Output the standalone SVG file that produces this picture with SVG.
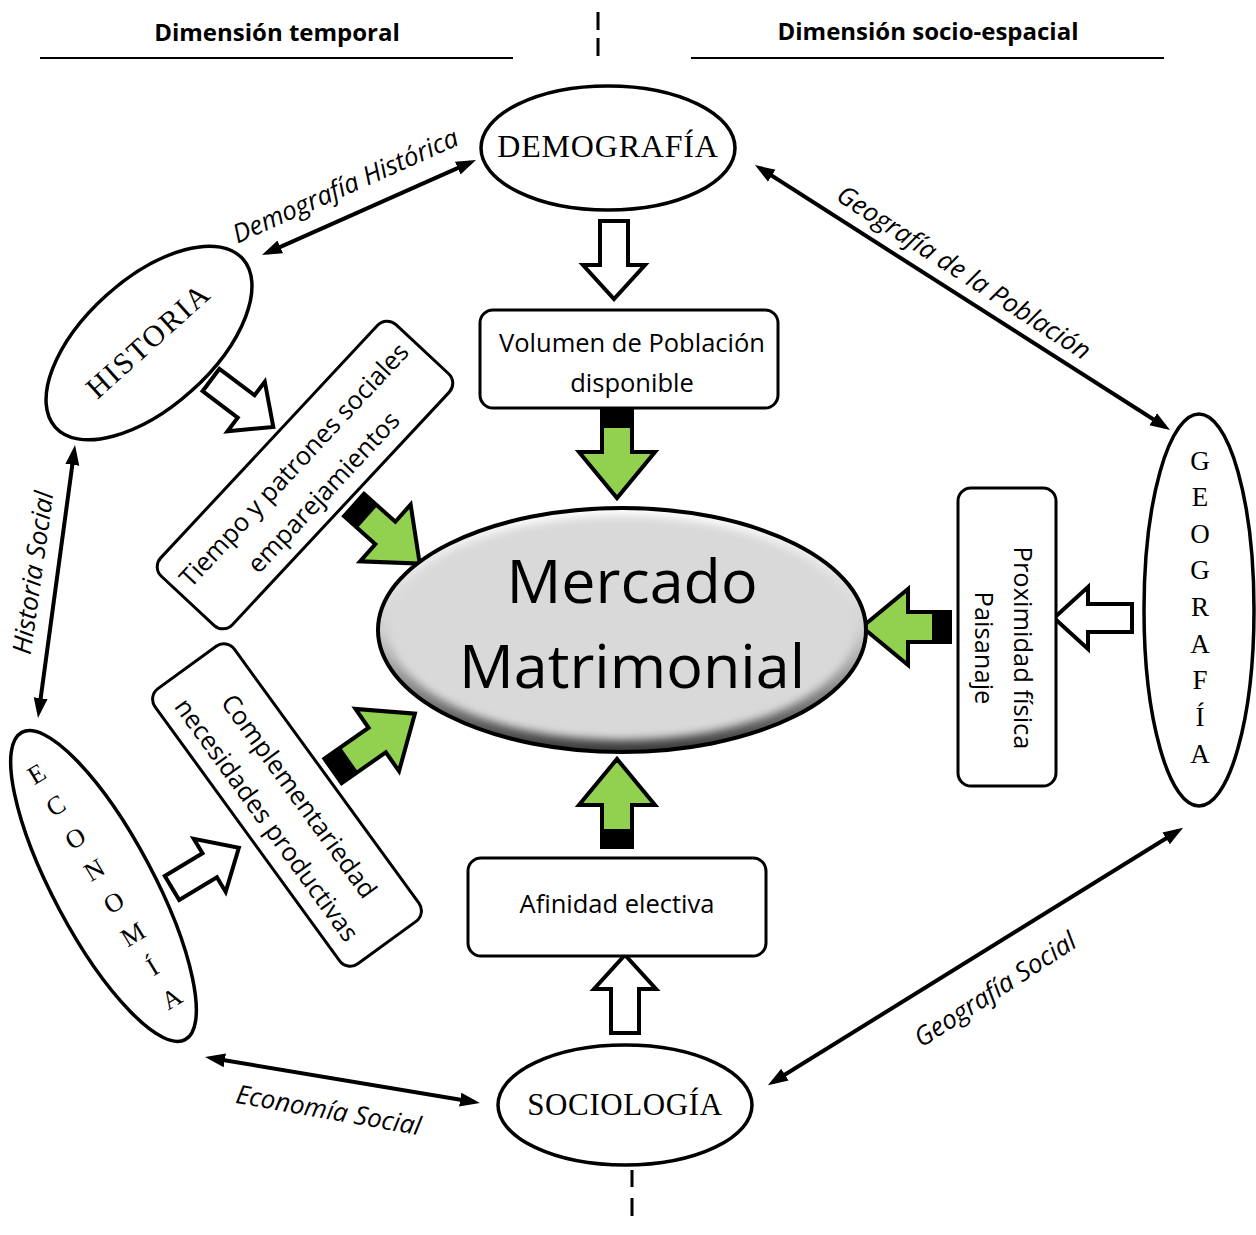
<svg xmlns="http://www.w3.org/2000/svg" width="1256" height="1235" viewBox="0 0 1256 1235">
<style>
.hdr{font-family:"Open Sans","Liberation Sans",sans-serif;font-weight:bold;font-size:24px;fill:#000;text-anchor:middle}
.box{fill:#fff;stroke:#000;stroke-width:3}
.node{fill:#fff;stroke:#000;stroke-width:3.5}
.bt{font-family:"Open Sans","Liberation Sans",sans-serif;font-size:25.5px;fill:#000;text-anchor:middle}
.serif{font-family:"Liberation Serif","Times New Roman",serif;fill:#000;text-anchor:middle}
.lbl{font-family:"Open Sans","Liberation Sans",sans-serif;font-style:italic;font-size:26px;fill:#000;text-anchor:middle}
.con{stroke:#000;stroke-width:4;fill:none;marker-start:url(#ah);marker-end:url(#ah)}
.rule{stroke:#000;stroke-width:2}
.dash{stroke:#000;stroke-width:3}
</style>
<defs>
<marker id="ah" markerUnits="userSpaceOnUse" markerWidth="20" markerHeight="16" viewBox="0 0 20 16" refX="14" refY="8" orient="auto-start-reverse">
<path d="M0,1 L20,8 L0,15 Z" fill="#000"/>
</marker>
<g id="hollow"><path d="M0,-14 H44 V-31 L78,0 L44,31 V14 H0 Z" fill="#fff" stroke="#000" stroke-width="4"/></g>
<g id="green"><path d="M0,-15 H42 V-38 L88,0 L42,38 V15 H0 Z" fill="#92d050" stroke="#000" stroke-width="4"/><rect x="0" y="-15" width="18" height="30" fill="#000"/></g>
<g id="greenL"><path d="M0,-15 H54 V-38 L100,0 L54,38 V15 H0 Z" fill="#92d050" stroke="#000" stroke-width="4"/><rect x="0" y="-15" width="20" height="30" fill="#000"/></g>
<linearGradient id="rim" x1="0" y1="0" x2="0" y2="1">
<stop offset="0" stop-color="#ffffff"/><stop offset="0.5" stop-color="#d0d0d0"/><stop offset="1" stop-color="#3a3a3a"/>
</linearGradient>
<filter id="blur" x="-10%" y="-10%" width="120%" height="120%"><feGaussianBlur stdDeviation="4"/></filter>
</defs>

<g id="headers">
<text class="hdr" x="277" y="41">Dimensión temporal</text>
<text class="hdr" x="928" y="40">Dimensión socio-espacial</text>
<line class="rule" x1="40" y1="58" x2="513" y2="58"/>
<line class="rule" x1="691" y1="58" x2="1164" y2="58"/>
<line class="dash" x1="598" y1="12" x2="598" y2="30"/>
<line class="dash" x1="598" y1="38" x2="598" y2="56"/>
<line class="dash" x1="632" y1="1170" x2="632" y2="1187"/>
<line class="dash" x1="632" y1="1198" x2="632" y2="1216"/>
</g>

<g id="connectors">
<line class="con" x1="267.5" y1="252.6" x2="470.5" y2="162.4"/>
<line class="con" x1="760" y1="168.2" x2="1165" y2="426.8"/>
<line class="con" x1="74.2" y1="451" x2="38.8" y2="712"/>
<line class="con" x1="211" y1="1058" x2="474" y2="1102"/>
<line class="con" x1="1178" y1="831" x2="773" y2="1082"/>
<text class="lbl" transform="translate(349,194) rotate(-24)">Demografía Histórica</text>
<text class="lbl" transform="translate(959,280) rotate(33)">Geografía de la Población</text>
<text class="lbl" transform="translate(42,574) rotate(-82)">Historia Social</text>
<text class="lbl" transform="translate(327,1119) rotate(10)">Economía Social</text>
<text class="lbl" transform="translate(1000,997) rotate(-33)">Geografía Social</text>
</g>

<g id="block-arrows">
<use href="#hollow" transform="translate(614,221) rotate(90)"/>
<use href="#hollow" transform="translate(1132,618) rotate(180)"/>
<use href="#hollow" transform="translate(625,1033) rotate(-90)"/>
<use href="#hollow" transform="translate(211,380) rotate(37)"/>
<use href="#hollow" transform="translate(172,888) rotate(-31)"/>
<use href="#green" transform="translate(617,410) rotate(90)"/>
<use href="#green" transform="translate(950,627) rotate(180)"/>
<use href="#green" transform="translate(617,847) rotate(-90)"/>
<use href="#green" transform="translate(354,505) rotate(41.7)"/>
<use href="#greenL" transform="translate(333,771) rotate(-35)"/>
</g>

<g id="demografia">
<ellipse class="node" cx="608" cy="148" rx="127" ry="62"/>
<text class="serif" x="608" y="157" font-size="32" letter-spacing="0.8">DEMOGRAFÍA</text>
</g>

<g id="historia">
<ellipse class="node" cx="149" cy="343" rx="126" ry="64" transform="rotate(-42 149 343)"/>
<text class="serif" font-size="30" letter-spacing="2" transform="translate(155,348) rotate(-42)">HISTORIA</text>
</g>

<g id="economia">
<ellipse class="node" cx="103.5" cy="886" rx="174" ry="50" transform="rotate(62 103.5 886)"/>
<g class="serif" font-size="26" transform="translate(104,886) rotate(-31)">
<text x="0" y="-122">E</text>
<text x="0" y="-85">C</text>
<text x="0" y="-47">O</text>
<text x="0" y="-10">N</text>
<text x="0" y="28">O</text>
<text x="0" y="65">M</text>
<text x="0" y="103">Í</text>
<text x="0" y="140">A</text>
</g>
</g>

<g id="geografia">
<ellipse class="node" cx="1199" cy="610" rx="55" ry="196"/>
<g class="serif" font-size="27">
<text x="1200" y="470">G</text>
<text x="1200" y="506">E</text>
<text x="1200" y="543">O</text>
<text x="1200" y="579">G</text>
<text x="1200" y="616">R</text>
<text x="1200" y="653">A</text>
<text x="1200" y="689">F</text>
<text x="1200" y="726">Í</text>
<text x="1200" y="763">A</text>
</g>
</g>

<g id="sociologia">
<ellipse class="node" cx="625" cy="1105" rx="127" ry="60"/>
<text class="serif" x="625" y="1115" font-size="31" letter-spacing="0.6">SOCIOLOGÍA</text>
</g>

<g id="volumen">
<rect class="box" x="480" y="310" width="298" height="98" rx="13"/>
<text class="bt" x="632" y="352">Volumen de Población</text>
<text class="bt" x="632" y="392">disponible</text>
</g>

<g id="afinidad">
<rect class="box" x="468" y="858" width="298" height="98" rx="13"/>
<text class="bt" x="617" y="913">Afinidad electiva</text>
</g>

<g id="proximidad">
<rect class="box" x="958" y="488" width="98" height="298" rx="13"/>
<text class="bt" transform="translate(1007,648) rotate(90)"><tspan x="0" y="-7">Proximidad física</tspan><tspan x="0" y="32">Paisanaje</tspan></text>
</g>

<g id="tiempo">
<g transform="translate(305,475) rotate(-47)">
<rect class="box" x="-172" y="-49" width="344" height="98" rx="13"/>
<text class="bt"><tspan x="0" y="-6">Tiempo y patrones sociales</tspan><tspan x="0" y="34">emparejamientos</tspan></text>
</g>
</g>

<g id="complementariedad">
<g transform="translate(287,805) rotate(54)">
<rect class="box" x="-170" y="-49" width="340" height="98" rx="13"/>
<text class="bt"><tspan x="0" y="-6">Complementariedad</tspan><tspan x="0" y="34">necesidades productivas</tspan></text>
</g>
</g>

<g id="mercado">
<ellipse cx="622" cy="630" rx="244" ry="122" fill="url(#rim)"/>
<ellipse cx="622" cy="628" rx="234" ry="112" fill="#d9d9d9" filter="url(#blur)"/>
<ellipse cx="622" cy="630" rx="244" ry="122" fill="none" stroke="#000" stroke-width="4"/>
<text x="632" y="603" font-family="Open Sans, Liberation Sans, sans-serif" font-size="61" text-anchor="middle">Mercado</text>
<text x="632" y="688" font-family="Open Sans, Liberation Sans, sans-serif" font-size="61" text-anchor="middle">Matrimonial</text>
</g>
</svg>
